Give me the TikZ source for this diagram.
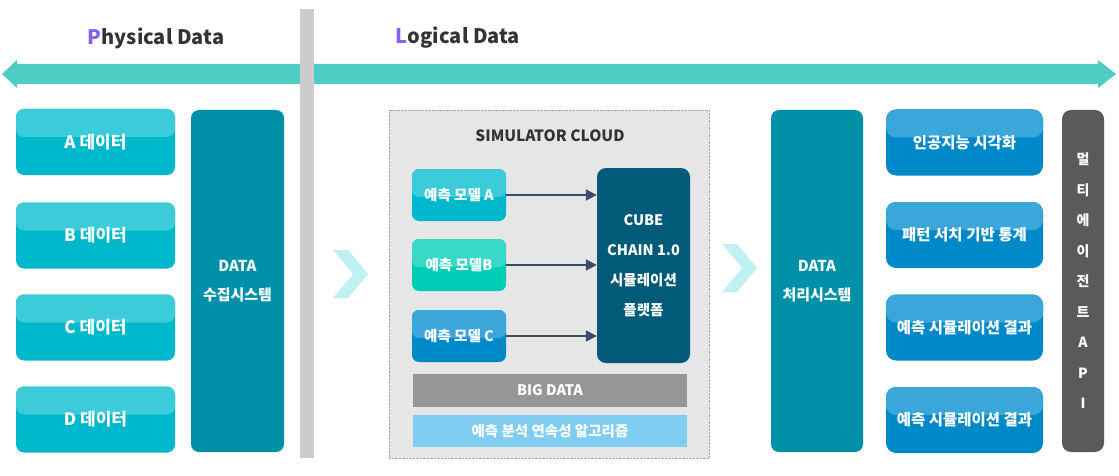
\documentclass[tikz,border=0pt]{standalone}
\usepackage{fontspec}
\setmainfont{Noto Sans CJK KR}
\usetikzlibrary{arrows.meta}

\definecolor{bandcol}{HTML}{4ECDC4}
\definecolor{headcol}{HTML}{333333}
\definecolor{firstcol}{HTML}{8C5CF0}
\definecolor{barcol}{HTML}{CCCCCC}
\definecolor{chevcol}{HTML}{BFF0F2}
\definecolor{cyancol}{HTML}{00B8CC}
\definecolor{cyanlight}{HTML}{3CCBD8}
\definecolor{tealcol}{HTML}{00CDB5}
\definecolor{teallight}{HTML}{38D9C8}
\definecolor{bluecol}{HTML}{0089C9}
\definecolor{bluelight}{HTML}{3AA6D9}
\definecolor{syscol}{HTML}{0091A8}
\definecolor{cubecol}{HTML}{005A78}
\definecolor{cloudcol}{HTML}{E6E6E6}
\definecolor{bigcol}{HTML}{969696}
\definecolor{algocol}{HTML}{7FCDF0}
\definecolor{apicol}{HTML}{5A5A5A}
\definecolor{linkcol}{HTML}{3C4A6B}

\begin{document}
\begin{tikzpicture}[x=1pt, y=-1pt,
  box/.style={rounded corners=8pt, inner sep=0pt, text=white,
    font=\bfseries\fontsize{15.5}{15.5}\selectfont},
  gloss/.style 2 args={fill=#1, path picture={\fill[#2]
    (path picture bounding box.north west) rectangle
    ([yshift=-28pt]path picture bounding box.north east);}},
  databox/.style={box, gloss={cyancol}{cyanlight}, minimum width=159pt,
    minimum height=66pt, font=\bfseries\fontsize{17}{17}\selectfont},
  outbox/.style={box, gloss={bluecol}{bluelight}, rounded corners=10pt,
    minimum width=157pt, minimum height=66pt},
  sysbox/.style={box, fill=syscol, minimum width=93pt, minimum height=342pt,
    align=center, font=\bfseries\fontsize{15}{29}\selectfont},
  modelbox/.style={box, rounded corners=7pt, minimum width=94pt,
    minimum height=52pt, font=\bfseries\fontsize{14.5}{14.5}\selectfont},
  strip/.style={box, rounded corners=0pt, minimum width=274pt,
    font=\bfseries\fontsize{14.5}{14.5}\selectfont},
  link/.style={linkcol, line width=2pt, -{Triangle[length=11pt,width=11pt]}},
  chevron/.style={fill=chevcol}]

\useasboundingbox (0,0) rectangle (1119,476);

%% headings and the double band
\node[text=headcol, font=\bfseries\fontsize{20}{20}\selectfont] (phys) at (156,38)
  {{\color{firstcol}P}hysical Data};
\node[text=headcol, font=\bfseries\fontsize{20}{20}\selectfont] (logi) at (458,38)
  {{\color{firstcol}L}ogical Data};
\fill[bandcol] (2,74) -- (17,60) -- (17,64) -- (1098,64) -- (1098,60) -- (1116,74)
  -- (1098,88) -- (1098,84) -- (17,84) -- (17,88) -- cycle;
\fill[barcol] (300,9) rectangle (314,458); %% divider

%% physical side
\node[databox] (dA) at (95.5,142)   {A 데이터};
\node[databox] (dB) at (95.5,235.5) {B 데이터};
\node[databox] (dC) at (95.5,327.5) {C 데이터};
\node[databox] (dD) at (95.5,419.5) {D 데이터};
\node[sysbox] (collect) at (237.5,281) {DATA\\수집시스템};

\fill[chevron] (333,250) -- (348,250) -- (368,274) -- (348,298) -- (333,298)
  -- (353,274) -- cycle;

%% simulator cloud
\node[draw=gray!70, densely dotted, fill=cloudcol, minimum width=320pt,
  minimum height=348pt, inner sep=0pt] (cloud) at (549,284) {};
\node[text=headcol, font=\bfseries\fontsize{15.5}{15.5}\selectfont] (cloudt) at (550,136)
  {SIMULATOR CLOUD};
\node[modelbox, gloss={cyancol}{cyanlight}] (mA) at (459,195) {예측 모델 A};
\node[modelbox, gloss={tealcol}{teallight}] (mB) at (459,265) {예측 모델B};
\node[modelbox, gloss={bluecol}{bluelight}] (mC) at (459,336) {예측 모델 C};
\node[box, fill=cubecol, rounded corners=9pt, minimum width=93pt, minimum height=195pt,
  align=center, font=\bfseries\fontsize{14.5}{30}\selectfont] (cube) at (643.5,265.5)
  {CUBE\\CHAIN 1.0\\시뮬레이션\\플랫폼};
\draw[link] (mA.east) -- (mA.east -| cube.west);
\draw[link] (mB.east) -- (mB.east -| cube.west);
\draw[link] (mC.east) -- (mC.east -| cube.west);
\node[strip, fill=bigcol, minimum height=33pt] (big) at (550,390.5) {BIG DATA};
\node[strip, fill=algocol, minimum height=32pt] (algo) at (550,431) {예측 분석 연속성 알고리즘};

\fill[chevron] (722,244) -- (737,244) -- (757,268) -- (737,292) -- (722,292)
  -- (742,268) -- cycle;

%% output side
\node[sysbox, minimum width=92pt] (process) at (817,281) {DATA\\처리시스템};
\node[outbox] (oA) at (964.5,142.5) {인공지능 시각화};
\node[outbox] (oB) at (964.5,235)   {패턴 서치 기반 통계};
\node[outbox] (oC) at (964.5,327.5) {예측 시뮬레이션 결과};
\node[outbox] (oD) at (964.5,420)   {예측 시뮬레이션 결과};
\node[box, fill=apicol, rounded corners=9pt, minimum width=42pt, minimum height=342pt,
  align=center, font=\bfseries\fontsize{14}{30.5}\selectfont] (api) at (1083,281)
  {멀\\티\\에\\이\\전\\트\\A\\P\\I};

\end{tikzpicture}
\end{document}
